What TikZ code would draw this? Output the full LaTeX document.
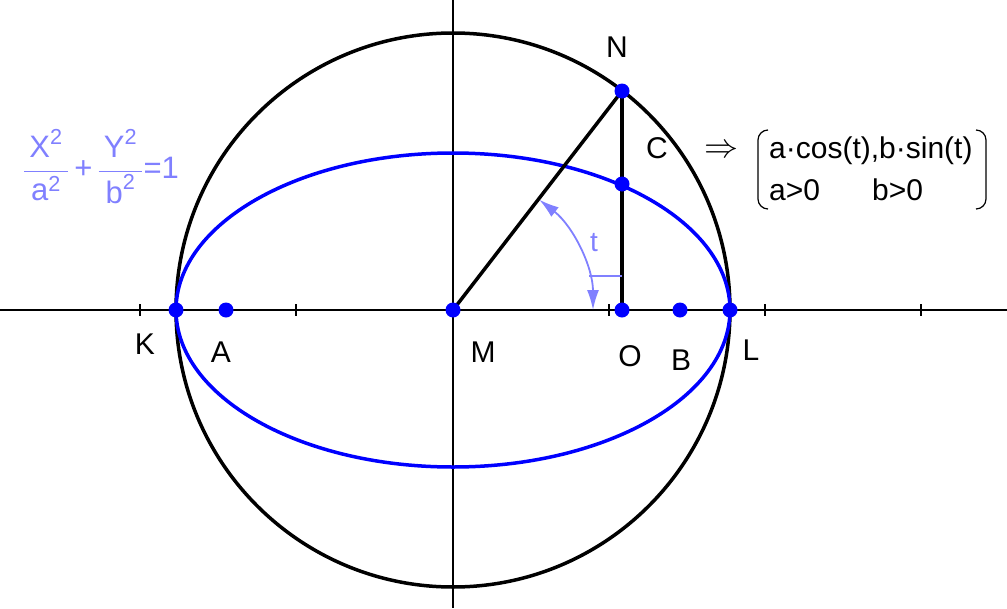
\RequirePackage{fix-cm}
\documentclass[tikz,border=0pt]{standalone}
\usepackage{amsmath}
\usepackage{fontspec}
\setmainfont{Liberation Sans}
\usepackage{tikz}
\usetikzlibrary{arrows.meta}
\definecolor{lavender}{RGB}{128,128,255}
\definecolor{ptblue}{RGB}{0,0,255}

\begin{document}
\begin{tikzpicture}
      [x=1pt,y=-1pt,
       dot node/.style={circle,fill=ptblue,inner sep=0pt,minimum size=15pt},
       lbl node/.style={font=\fontsize{30}{34}\selectfont,inner sep=0pt},
       axis line/.style={line width=2.2pt},
       t arc/.style={lavender,line width=1.8pt,{Latex[length=20pt,width=12pt]}-{Latex[length=20pt,width=12pt]}}]
        \useasboundingbox (0,0) rectangle (1007,608);
        \coordinate (M) at (453,310);
        \coordinate (N) at (622,91);
        \coordinate (C) at (622,184);
        \coordinate (O) at (622,310);
        \coordinate (K) at (176,310);
        \coordinate (L) at (730,310);
        \coordinate (A) at (226,310);
        \coordinate (B) at (680,310);
        \coordinate (xl) at (0,310);
        \coordinate (xr) at (1007,310);
        \coordinate (yt) at (453,0);
        \coordinate (yb) at (453,608);
        \coordinate (tm1) at (589,276);
        \coordinate (tm2) at (622,276);

        \draw[axis line] (xl) -- (xr);
        \draw[axis line] (yt) -- (yb);
        \foreach \x in {140,296,609,765,921}
          \draw[axis line] (\x,304) -- (\x,316);

        \draw[line width=3.5pt] (M) circle [radius=277];
        \draw[ptblue,line width=3.5pt] (M) ellipse [x radius=277, y radius=157];

        \draw[line width=3.5pt] (M) -- (N);
        \draw[line width=4.5pt] (N) -- (O);

        \draw[t arc] ([shift={(-52:140)}]M) arc [start angle=-52, end angle=0, radius=140];
        \draw[lavender,line width=1.8pt] (tm1) -- (tm2);

        \node[dot node] (dK) at (K) {};
        \node[dot node] (dA) at (A) {};
        \node[dot node] (dM) at (M) {};
        \node[dot node] (dO) at (O) {};
        \node[dot node] (dB) at (B) {};
        \node[dot node] (dL) at (L) {};
        \node[dot node] (dN) at (N) {};
        \node[dot node] (dC) at (C) {};

        \node[lbl node] (lN) at (617,47) {N};
        \node[lbl node] (lC) at (657,148) {C};
        \node[lbl node] (lK) at (145,344) {K};
        \node[lbl node] (lA) at (221,352) {A};
        \node[lbl node] (lM) at (483,352) {M};
        \node[lbl node] (lO) at (630,356) {O};
        \node[lbl node] (lB) at (681,360) {B};
        \node[lbl node] (lL) at (751,350) {L};
        \node[lbl node,text=lavender,font=\fontsize{28}{32}\selectfont] (lt) at (594,243) {t};

        \node[lbl node,text=lavender,font=\fontsize{31}{34}\selectfont] (eq) at (101,167)
          {$\dfrac{\,\text{X}^{\text{2}}\,}{\,\text{a}^{\text{2}}\,}\,\text{+}\,\dfrac{\,\text{Y}^{\text{2}}\,}{\,\text{b}^{\text{2}}\,}\text{=1}$};

        \node[lbl node,font=\fontsize{34}{36}\selectfont] (impl) at (721,151) {$\Rightarrow$};
        \node[lbl node,anchor=west] (row1) at (769,151) {a·cos(t),b·sin(t)};
        \node[lbl node,anchor=west] (row2a) at (769,190) {a>0};
        \node[lbl node,anchor=west] (row2b) at (872,190) {b>0};
        \draw[line width=1.2pt,rounded corners=10pt] (768,130) -| (758,209) -- (768,209);
        \draw[line width=1.2pt,rounded corners=10pt] (976,130) -| (986,209) -- (976,209);

      \end{tikzpicture}
\end{document}
